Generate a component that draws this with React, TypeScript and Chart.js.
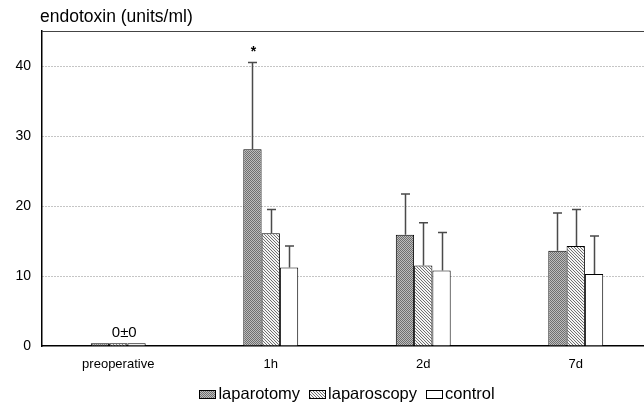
import React, { useEffect, useRef } from 'react';
import { Chart, registerables } from 'chart.js';

Chart.register(...registerables);

const categories = ['preoperative', '1h', '2d', '7d'];
const seriesNames = ['laparotomy', 'laparoscopy', 'control'];
const laparotomy = [0.4, 28.1, 15.9, 13.6];
const laparoscopy = [0.4, 16.1, 11.5, 14.3];
const control = [0.4, 11.2, 10.8, 10.3];
const laparotomySD = [0, 12.4, 5.8, 5.4];
const laparoscopySD = [0, 3.4, 6.1, 5.2];
const controlSD = [0, 3.1, 5.4, 5.4];
const yMin = 0;
const yMax = 45;
const yStep = 10;
const yTitle = 'endotoxin (units/ml)';
const preopNote = '0±0';
const significance = '*';

const FONT = '"Liberation Sans", Arial, sans-serif';

function makePattern(kind: string): CanvasPattern | string {
  const c = document.createElement('canvas');
  const ctx = c.getContext('2d');
  if (!ctx) return '#999';
  if (kind === 'dots') {
    c.width = 2; c.height = 2;
    ctx.fillStyle = '#bdbdbd';
    ctx.fillRect(0, 0, 2, 2);
    ctx.fillStyle = '#6e6e6e';
    ctx.fillRect(0, 0, 1, 1);
    ctx.fillRect(1, 1, 1, 1);
  } else if (kind === 'hatch') {
    c.width = 3; c.height = 3;
    ctx.fillStyle = '#f4f4f4';
    ctx.fillRect(0, 0, 3, 3);
    ctx.fillStyle = '#707070';
    ctx.fillRect(0, 0, 1, 1);
    ctx.fillRect(1, 1, 1, 1);
    ctx.fillRect(2, 2, 1, 1);
  } else {
    return '#ffffff';
  }
  return ctx.createPattern(c, 'repeat') || '#999';
}

export default function App() {
  const ref = useRef<HTMLCanvasElement | null>(null);

  useEffect(() => {
    if (!ref.current) return;
    const fills = [makePattern('dots'), makePattern('hatch'), makePattern('none')];
    const values = [laparotomy, laparoscopy, control];
    const sds = [laparotomySD, laparoscopySD, controlSD];

    const extras = {
      id: 'extras',
      beforeDatasetsDraw(chart: any) {
        const { ctx, chartArea } = chart;
        ctx.save();
        ctx.strokeStyle = '#444';
        ctx.lineWidth = 1;
        ctx.beginPath();
        ctx.moveTo(chartArea.left, chartArea.top + 0.5);
        ctx.lineTo(chartArea.right, chartArea.top + 0.5);
        ctx.stroke();
        ctx.restore();
      },
      afterDatasetsDraw(chart: any) {
        const { ctx } = chart;
        const yScale = chart.scales.y;
        const xScale = chart.scales.x;
        ctx.save();
        ctx.strokeStyle = '#4a4a4a';
        ctx.lineWidth = 1.5;
        values.forEach((vals, d) => {
          const meta = chart.getDatasetMeta(d);
          meta.data.forEach((bar: any, i: number) => {
            const sd = sds[d][i];
            if (!sd) return;
            const top = yScale.getPixelForValue(vals[i] + sd);
            const x = Math.round(bar.x) + 0.5;
            ctx.beginPath();
            ctx.moveTo(x, bar.y);
            ctx.lineTo(x, top);
            ctx.moveTo(x - 4.5, top);
            ctx.lineTo(x + 4.5, top);
            ctx.stroke();
          });
        });
        // annotations
        ctx.fillStyle = '#000';
        ctx.textAlign = 'center';
        ctx.textBaseline = 'alphabetic';
        ctx.font = `15px ${FONT}`;
        ctx.fillText(preopNote, xScale.getPixelForValue(0) + 6, yScale.getPixelForValue(0) - 9);
        const starBar = chart.getDatasetMeta(0).data[1];
        ctx.font = `bold 14px ${FONT}`;
        ctx.fillText(significance, starBar.x + 1, yScale.getPixelForValue(laparotomy[1] + laparotomySD[1]) - 7);
        // y title
        ctx.textAlign = 'left';
        ctx.font = `17.5px ${FONT}`;
        ctx.fillText(yTitle, 40, 22);
        // legend
        ctx.font = `16.5px ${FONT}`;
        const boxW = 16, boxH = 8, gapBox = 3, gapItem = 9;
        const widths = seriesNames.map((n) => ctx.measureText(n).width);
        const total = widths.reduce((a, b) => a + b, 0) + seriesNames.length * (boxW + gapBox) + gapItem * (seriesNames.length - 1);
        const center = (chart.chartArea.left + chart.chartArea.right) / 2;
        let x = center - total / 2;
        const baseY = 399;
        seriesNames.forEach((n, k) => {
          const bx = Math.round(x);
          ctx.fillStyle = fills[k];
          ctx.fillRect(bx, baseY - 9, boxW, boxH);
          ctx.strokeStyle = '#000';
          ctx.lineWidth = 1;
          ctx.strokeRect(bx + 0.5, baseY - 9 + 0.5, boxW, boxH);
          ctx.fillStyle = '#000';
          ctx.fillText(n, x + boxW + gapBox, baseY);
          x += boxW + gapBox + widths[k] + gapItem;
        });
        ctx.restore();
      },
    };

    const chart = new Chart(ref.current, {
      type: 'bar',
      data: {
        labels: categories,
        datasets: seriesNames.map((name, k) => ({
          label: name,
          data: values[k],
          backgroundColor: fills[k] as any,
          borderColor: '#000',
          borderWidth: 1,
          categoryPercentage: 0.36,
          barPercentage: 1,
        })),
      },
      options: {
        responsive: false,
        animation: false,
        devicePixelRatio: 1,
        layout: { padding: { top: 31, right: 8, left: 0, bottom: 0 } },
        plugins: {
          legend: { display: false },
          title: { display: false },
          tooltip: { enabled: false },
        },
        scales: {
          x: {
            grid: { display: false, drawTicks: false },
            border: { display: true, color: '#000', width: 1.5 },
            ticks: { color: '#000', font: { family: FONT, size: 13 }, padding: 11 },
            afterFit: (s: any) => { s.height = 57; },
          },
          y: {
            min: yMin,
            max: yMax,
            grid: {
              drawTicks: false,
              color: (c: any) => (c.tick && c.tick.value === 0 ? 'rgba(0,0,0,0)' : '#8a8a8a'),
              lineWidth: 1,
            },
            border: { display: true, color: '#000', width: 1.5, dash: [1, 2] },
            ticks: {
              stepSize: yStep,
              includeBounds: false,
              color: '#000',
              font: { family: FONT, size: 14 },
              padding: 11,
            },
            afterFit: (s: any) => { s.width = 42; },
          },
        },
      },
      plugins: [extras],
    });
    return () => chart.destroy();
  }, []);

  return (
    <div style={{ position: 'fixed', left: 0, top: 0, width: 644, height: 403, overflow: 'hidden', background: '#fff' }}>
      <canvas ref={ref} width={660} height={403} style={{ display: 'block', width: 660, height: 403 }} />
    </div>
  );
}
